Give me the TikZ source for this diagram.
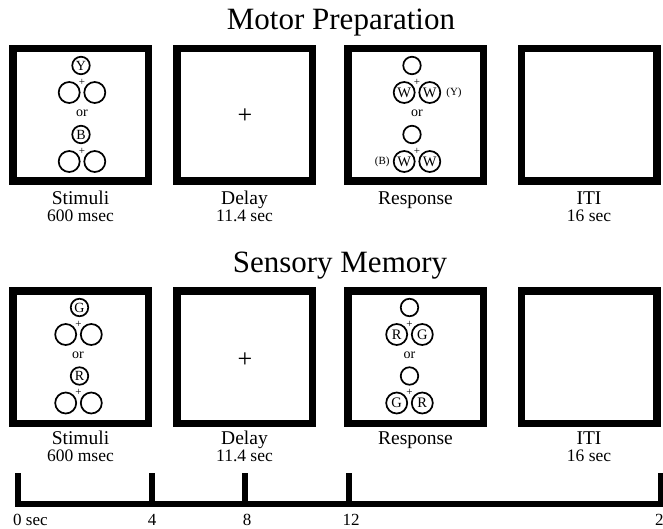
\documentclass[tikz,border=0pt]{standalone}
\usepackage{fontspec}
\setmainfont{Liberation Serif}
\usetikzlibrary{positioning}
\newcommand{\fsz}[1]{\fontsize{#1}{#1}\selectfont}
% one display: cue circle above a pair of circles, fixation cross between them
\newcommand{\trio}[7]{% name, x, y, cue shift, cue, left, right
  \node[cue] (#1t) at ({#2+(#4)},{#3-27}) {#5};
  \node[fix] (#1p) at (#2,{#3-10.5}) {+};
  \node[ring] (#1l) at ({#2-12.8},#3) {#6};
  \node[ring] (#1r) at ({#2+12.8},#3) {#7};
}

\begin{document}
\begin{tikzpicture}[
  x=1pt, y=-1pt,
  panel/.style={draw, line width=7.5pt, minimum width=135.5pt, minimum height=132.5pt, inner sep=0pt},
  ring/.style={circle, draw, line width=1.7pt, minimum size=21pt, inner sep=0pt, font=\fsz{14.5}},
  cue/.style={ring, minimum size=17.5pt, font=\fsz{14}},
  fix/.style={inner sep=0pt, font=\fsz{11}},
  orlab/.style={inner sep=0pt, font=\fsz{14}},
  tag/.style={inner sep=0pt, font=\fsz{11}},
  headline/.style={anchor=base, inner sep=0pt, font=\fsz{31}},
  lbl/.style={anchor=base, inner sep=0pt, font=\fsz{19.5}},
  dur/.style={anchor=base, inner sep=0pt, font=\fsz{17.5}},
  timelab/.style={anchor=base, inner sep=0pt, font=\fsz{17}},
  timebar/.style={line width=6pt},
]
\useasboundingbox (0,0) rectangle (663,529);
\clip (0,0) rectangle (663,529);
% titles
\node[headline] (mtitle) at (341,30) {Motor Preparation};
\node[headline] (stitle) at (340,272) {Sensory Memory};
% panels
\foreach \n/\x in {1/80.5,2/244.5,3/415.5,4/589}{
  \node[panel] (m\n) at (\x,115) {};
  \node[panel] (s\n) at (\x,357) {};
}
% panel names and durations
\foreach \n/\x/\lab in {1/80.5/Stimuli,2/244.5/Delay,3/415.5/Response,4/589/ITI}{
  \node[lbl] (ml\n) at (\x,205) {\lab};
  \node[lbl] (sl\n) at (\x,444) {\lab};
}
\foreach \n/\x/\dur in {1/80.5/600 msec,2/244.5/11.4 sec,4/589/16 sec}{
  \node[dur] (md\n) at (\x,222) {\dur};
  \node[dur] (sd\n) at (\x,461) {\dur};
}
% motor preparation displays
\trio{ms1}{82}{92.5}{-1}{Y}{}{}
\node[orlab] (msor) at (82,113) {or};
\trio{ms2}{82}{161.5}{-1}{B}{}{}
\node[font=\fsz{26}, inner sep=0pt] (mfix) at (245,116) {+};
\trio{mr1}{417}{92.5}{-5}{}{W}{W}
\node[orlab] (mror) at (417,113) {or};
\trio{mr2}{417}{161.5}{-5}{}{W}{W}
\node[tag, right=5pt of mr1r] (mry) {(Y)};
\node[tag, left=3pt of mr2l] (mrb) {(B)};
% sensory memory displays
\trio{ss1}{78.5}{334.5}{1}{G}{}{}
\node[orlab] (ssor) at (78,355) {or};
\trio{ss2}{78.5}{403}{1}{R}{}{}
\node[font=\fsz{26}, inner sep=0pt] (sfix) at (245,360) {+};
\trio{sr1}{409.5}{334.5}{0}{}{R}{G}
\node[orlab] (sror) at (409.5,355) {or};
\trio{sr2}{409.5}{403}{0}{}{G}{R}
% time line
\draw[timebar] (17.5,473) |- (670,503.5);
\foreach \t in {152,245,348.5,661} \draw[timebar] (\t,473) -- (\t,503.5);
\node[timelab, anchor=base west] (t0) at (13,525) {0 sec};
\node[timelab] (t4) at (152,525) {4};
\node[timelab] (t8) at (247,525) {8};
\node[timelab] (t12) at (351,525) {12};
\node[timelab, anchor=base west] (t28) at (655,525) {28};
\end{tikzpicture}
\end{document}
